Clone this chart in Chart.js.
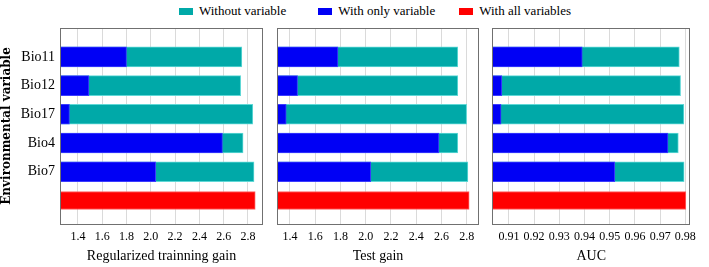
<!DOCTYPE html>
<html>
<head>
<meta charset="utf-8">
<script src="https://cdn.jsdelivr.net/npm/chart.js@4"></script>
<style>
  body { margin: 0; background: #fff; }
  #wrap { position: relative; width: 709px; height: 267px; overflow: hidden; }
  .panel { position: absolute; top: 0; height: 267px; }
  #legend { position: absolute; top: 3px; left: 179px; display: flex; font: 13px 'Liberation Serif', serif; color: #000; }
  #legend span.item { display: flex; align-items: center; }
  #legend span.box { display: inline-block; width: 14px; height: 7px; margin-right: 6px; }
</style>
</head>
<body>
<div id="wrap">
  <div id="legend"></div>
  <div class="panel" style="left:0;width:268px"><canvas id="trainChart"></canvas></div>
  <div class="panel" style="left:276px;width:208px"><canvas id="testChart"></canvas></div>
  <div class="panel" style="left:491px;width:211px"><canvas id="aucChart"></canvas></div>
</div>
<script>
// categories (last row is the full model, no label)
const categories = ['Bio11', 'Bio12', 'Bio17', 'Bio4', 'Bio7', ''];
const seriesNames = ['Without variable', 'With only variable', 'With all variables'];
const seriesColors = ['#00a9a8', '#0000f5', '#ff0000'];
const seriesBorders = ['#5fd8d6', '#3c3cff', '#ff6060'];

const trainWithout = [2.75, 2.74, 2.84, 2.76, 2.85];
const trainOnly = [1.80, 1.49, 1.33, 2.59, 2.04];
const trainAll = [2.86];

const testWithout = [2.73, 2.73, 2.80, 2.73, 2.81];
const testOnly = [1.78, 1.46, 1.37, 2.58, 2.04];
const testAll = [2.82];

const aucWithout = [0.9776, 0.9781, 0.9794, 0.9772, 0.9795];
const aucOnly = [0.9391, 0.9072, 0.9069, 0.9731, 0.9520];
const aucAll = [0.9802];

const gainTicks = [1.4, 1.6, 1.8, 2.0, 2.2, 2.4, 2.6, 2.8];
const aucTicks = [0.91, 0.92, 0.93, 0.94, 0.95, 0.96, 0.97, 0.98];

// legend
const legendEl = document.getElementById('legend');
const legendGaps = [32, 24, 0];
seriesNames.forEach((name, i) => {
    const item = document.createElement('span');
    item.className = 'item';
    item.style.marginRight = legendGaps[i] + 'px';
    item.innerHTML = '<span class="box" style="background:' + seriesColors[i] + '"></span>' + name;
    legendEl.appendChild(item);
});

const framePlugin = {
    id: 'frame',
    afterDraw(chart) {
        const { ctx, chartArea } = chart;
        ctx.save();
        ctx.strokeStyle = '#707070';
        ctx.lineWidth = 1;
        ctx.strokeRect(Math.round(chartArea.left) + 0.5, Math.round(chartArea.top) + 0.5,
            Math.round(chartArea.right - chartArea.left) - 1, Math.round(chartArea.bottom - chartArea.top));
        ctx.restore();
    }
};

function toPoints(values, start) {
    return values.map((v, i) => ({ x: v, y: start + i }));
}

function makeChart(id, withoutVals, onlyVals, allVals, opts) {
    const datasets = [
        { label: seriesNames[0], data: toPoints(withoutVals, 0), order: 2, barThickness: 20 },
        { label: seriesNames[1], data: toPoints(onlyVals, 0), order: 1, barThickness: 20 },
        { label: seriesNames[2], data: toPoints(allVals, 5), order: 0, barThickness: 18 }
    ];
    datasets.forEach((d, i) => {
        d.backgroundColor = seriesColors[i];
        d.borderColor = seriesBorders[i];
        d.borderWidth = 1;
        d.borderSkipped = false;
        d.grouped = false;
    });

    return new Chart(document.getElementById(id), {
        type: 'bar',
        data: { datasets: datasets },
        plugins: [framePlugin],
        options: {
            indexAxis: 'y',
            animation: false,
            responsive: true,
            maintainAspectRatio: false,
            layout: { padding: { top: 28, right: 5, left: opts.padLeft, bottom: 0 } },
            plugins: { legend: { display: false }, tooltip: { enabled: false } },
            scales: {
                x: {
                    type: 'linear',
                    min: opts.min,
                    max: opts.max,
                    afterBuildTicks: s => { s.ticks = opts.ticks.map(v => ({ value: v })); },
                    afterFit: s => { s.height = 43; },
                    grid: { color: '#dadada', drawTicks: false },
                    border: { display: false },
                    ticks: {
                        padding: 6,
                        color: '#000',
                        maxRotation: 0,
                        autoSkip: false,
                        font: { family: 'Liberation Serif', size: 12 },
                        callback: v => v.toFixed(opts.digits)
                    },
                    title: {
                        display: true,
                        text: opts.title,
                        color: '#000',
                        font: { family: 'Liberation Serif', size: 14 },
                        padding: { top: 0, bottom: 2 }
                    }
                },
                y: {
                    type: 'linear',
                    display: opts.showY,
                    reverse: true,
                    min: -0.435,
                    max: 5.25,
                    afterBuildTicks: s => { s.ticks = categories.map((c, i) => ({ value: i })); },
                    afterFit: s => { s.width = opts.showY ? 60 : 0; },
                    grid: { display: false, drawTicks: false },
                    border: { display: false },
                    ticks: {
                        color: '#000',
                        padding: 5,
                        font: { family: 'Liberation Serif', size: 14 },
                        callback: v => categories[v]
                    },
                    title: {
                        display: true,
                        text: 'Environmental variable',
                        color: '#000',
                        font: { family: 'DejaVu Serif', size: 12, weight: 'bold' },
                        padding: { top: 0, bottom: 0 }
                    }
                }
            }
        }
    });
}

makeChart('trainChart', trainWithout, trainOnly, trainAll,
    { min: 1.252, max: 2.924, ticks: gainTicks, digits: 1, title: 'Regularized trainning gain', showY: true, padLeft: 0 });
makeChart('testChart', testWithout, testOnly, testAll,
    { min: 1.297, max: 2.898, ticks: gainTicks, digits: 1, title: 'Test gain', showY: false, padLeft: 1 });
makeChart('aucChart', aucWithout, aucOnly, aucAll,
    { min: 0.9033, max: 0.982, ticks: aucTicks, digits: 2, title: 'AUC', showY: false, padLeft: 1 });
</script>
</body>
</html>
